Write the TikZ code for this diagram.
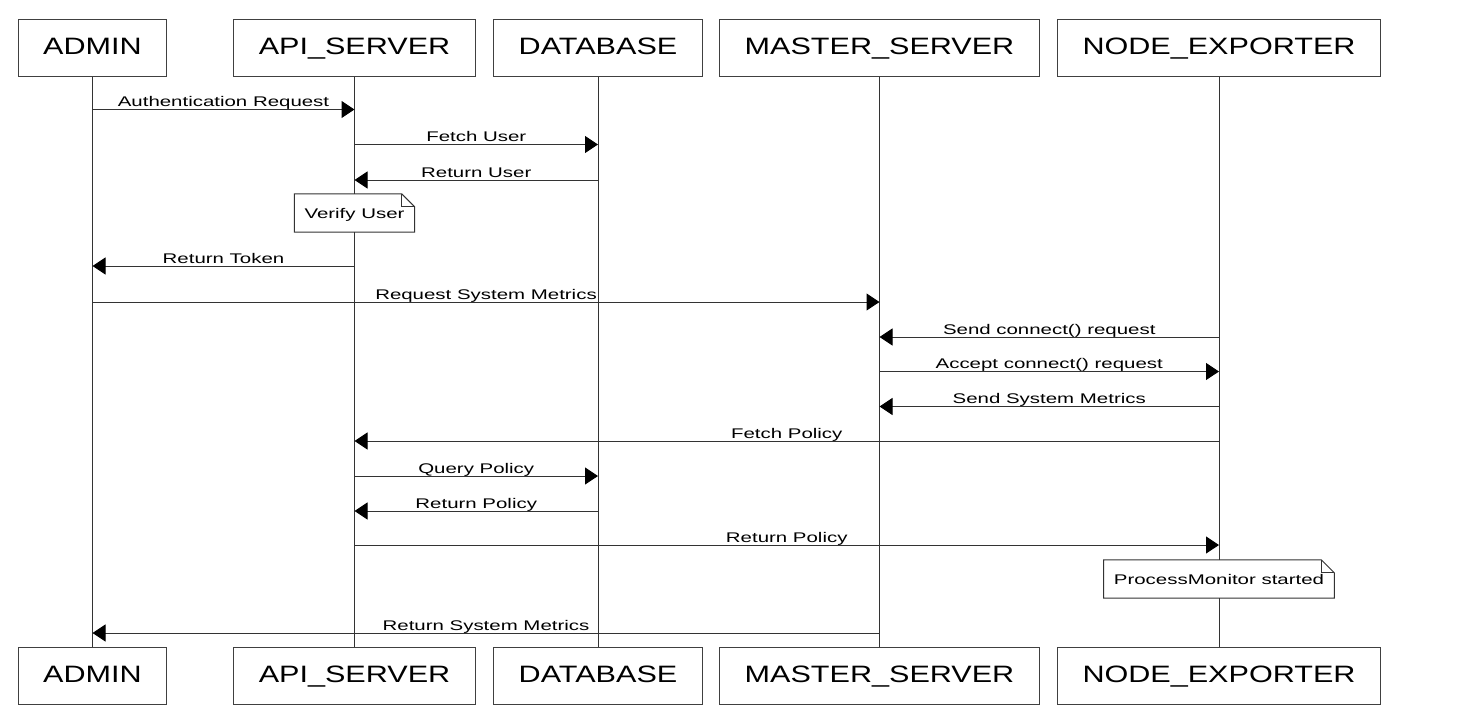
\documentclass[tikz,border=0pt]{standalone}
\usepackage{fontspec}
\setmainfont{Liberation Sans}
\newfontfamily\boxfont{Liberation Sans}[FakeStretch=1.29]
\newfontfamily\msgfont{Liberation Sans}[FakeStretch=1.46]
\usetikzlibrary{arrows.meta}

\tikzset{
  actor/.style={draw=black!75, line width=1pt, fill=white, minimum height=57pt,
    inner xsep=25pt, text height=17pt, text depth=4pt,
    font=\boxfont\fontsize{23.7}{28}\selectfont},
  lifeline/.style={draw=black!80, line width=1pt},
  msg/.style={draw=black!80, line width=1pt,
    -{Triangle[length=13pt,width=17pt,color=black]}},
  msglabel/.style={anchor=base, yshift=3pt, fill=white, inner sep=0.5pt,
    text depth=0pt, font=\msgfont\fontsize{14}{17}\selectfont},
  note/.style={fill=white, minimum height=38pt, inner xsep=10pt,
    text height=10pt, text depth=-1pt, font=\msgfont\fontsize{14}{17}\selectfont},
}

% note with a folded corner
\newcommand{\foldnote}[1]{%
  \draw[lifeline] (#1.south west) -- (#1.north west) -- ([xshift=-13pt]#1.north east)
    -- ([yshift=-13pt]#1.north east) -- (#1.south east) -- cycle;
  \draw[lifeline] ([xshift=-13pt]#1.north east) |- ([yshift=-13pt]#1.north east);}

\begin{document}
\begin{tikzpicture}[x=1pt,y=-1pt]
   \fill [white] (0,0) rectangle (1475,721);
   \useasboundingbox (0,0) rectangle (1475,721);

   % Participants
   \node[actor] (admin)  at (92.5,47.5)  {ADMIN};
   \node[actor] (api)    at (354.5,47.5) {API\_SERVER};
   \node[actor] (db)     at (598,47.5)   {DATABASE};
   \node[actor] (master) at (879.5,47.5) {MASTER\_SERVER};
   \node[actor] (nodex)  at (1219,47.5)  {NODE\_EXPORTER};

   \node[actor] (adminB)  at (92.5,676)  {ADMIN};
   \node[actor] (apiB)    at (354.5,676) {API\_SERVER};
   \node[actor] (dbB)     at (598,676)   {DATABASE};
   \node[actor] (masterB) at (879.5,676) {MASTER\_SERVER};
   \node[actor] (nodexB)  at (1219,676)  {NODE\_EXPORTER};

   % Lifelines
   \foreach \p in {admin,api,db,master,nodex}
     \draw[lifeline] (\p.south) -- (\p B.north);

   % Messages
   \coordinate (m1) at (0,109.5);
   \coordinate (m2) at (0,144.5);
   \coordinate (m3) at (0,180);
   \coordinate (m4) at (0,266);
   \coordinate (m5) at (0,302);
   \coordinate (m6) at (0,337);
   \coordinate (m7) at (0,371.5);
   \coordinate (m8) at (0,406.5);
   \coordinate (m9) at (0,441);
   \coordinate (m10) at (0,476);
   \coordinate (m11) at (0,511);
   \coordinate (m12) at (0,545);
   \coordinate (m13) at (0,633);

   \draw[msg] (admin |- m1) -- (api |- m1) node[msglabel, midway] {Authentication Request};
   \draw[msg] (api |- m2) -- (db |- m2) node[msglabel, midway] {Fetch User};
   \draw[msg] (db |- m3) -- (api |- m3) node[msglabel, midway] {Return User};
   \draw[msg] (api |- m4) -- (admin |- m4) node[msglabel, midway] {Return Token};
   \draw[msg] (admin |- m5) -- (master |- m5) node[msglabel, midway] {Request System Metrics};
   \draw[msg] (nodex |- m6) -- (master |- m6) node[msglabel, midway] {Send connect() request};
   \draw[msg] (master |- m7) -- (nodex |- m7) node[msglabel, midway] {Accept connect() request};
   \draw[msg] (nodex |- m8) -- (master |- m8) node[msglabel, midway] {Send System Metrics};
   \draw[msg] (nodex |- m9) -- (api |- m9) node[msglabel, midway] {Fetch Policy};
   \draw[msg] (api |- m10) -- (db |- m10) node[msglabel, midway] {Query Policy};
   \draw[msg] (db |- m11) -- (api |- m11) node[msglabel, midway] {Return Policy};
   \draw[msg] (api |- m12) -- (nodex |- m12) node[msglabel, midway] {Return Policy};
   \draw[msg] (master |- m13) -- (admin |- m13) node[msglabel, midway] {Return System Metrics};

   % Notes
   \node[note] (verify) at (api |- 0,213) {Verify User};
   \foldnote{verify}
   \node[note] (monitor) at (nodex |- 0,579) {ProcessMonitor started};
   \foldnote{monitor}
\end{tikzpicture}
\end{document}
